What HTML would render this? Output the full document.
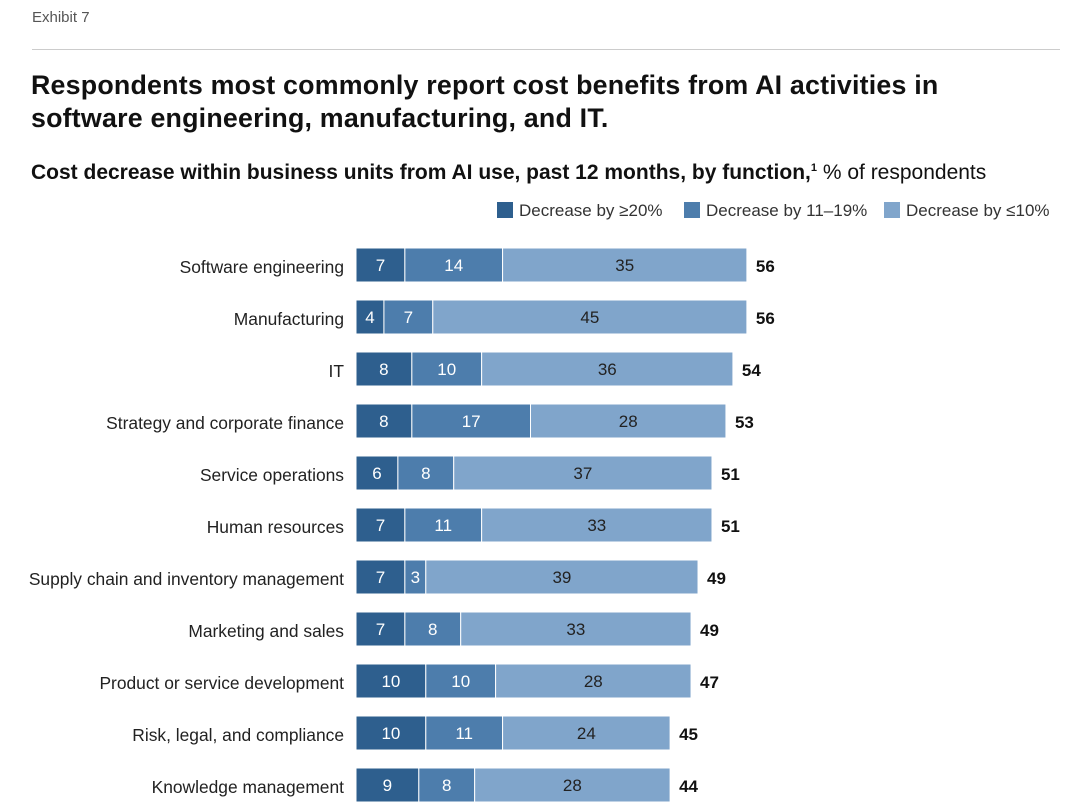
<!DOCTYPE html>
<html><head><meta charset="utf-8"><style>
body{margin:0;width:1080px;height:803px;background:#fff;font-family:"Liberation Sans",sans-serif;overflow:hidden;position:relative}
.abs{position:absolute;white-space:nowrap}
</style></head><body>
<div class="abs" style="left:32px;top:9px;font-size:15px;color:#555">Exhibit 7</div>
<div class="abs" style="left:32px;top:49px;width:1028px;height:1px;background:#ccc"></div>
<div class="abs" style="left:31px;top:69px;font-size:26.8px;font-weight:bold;line-height:33px;color:#111;letter-spacing:0.2px">Respondents most commonly report cost benefits from AI activities in<br>software engineering, manufacturing, and IT.</div>
<div class="abs" style="left:31px;top:161px;font-size:21px;color:#111"><b>Cost decrease within business units from AI use, past 12 months, by function,<sup style="font-size:11px">1</sup></b> % of respondents</div>
<svg id="chart" width="1080" height="803" style="position:absolute;left:0;top:0"></svg>
<script>
const categories=["Software engineering","Manufacturing","IT","Strategy and corporate finance","Service operations","Human resources","Supply chain and inventory management","Marketing and sales","Product or service development","Risk, legal, and compliance","Knowledge management"];
const s20=[7,4,8,8,6,7,7,7,10,10,9];
const s11=[14,7,10,17,8,11,3,8,10,11,8];
const s10=[35,45,36,28,37,33,39,33,28,24,28];
const totals=[56,56,54,53,51,51,49,49,47,45,44];
const seriesNames=["Decrease by ≥20%","Decrease by 11–19%","Decrease by ≤10%"];
const colors=["#2e5f8e","#4d7dac","#80a5cb"];
const NS="http://www.w3.org/2000/svg";
const svg=document.getElementById('chart');
const x0=356,scale=6.98,y0=265,step=52,bh=34;
const xs=v=>x0+v*scale, yc=i=>y0+i*step;
function mk(t,a){const e=document.createElementNS(NS,t);for(const k in a)e.setAttribute(k,a[k]);svg.appendChild(e);return e;}
const legX=[497,684,884];
seriesNames.forEach((n,j)=>{
 const r=mk('rect',{x:legX[j],y:202,width:16,height:16,fill:colors[j]});
 
 
 const t=mk('text',{x:legX[j]+22,y:216,'font-size':17,fill:'#333','font-family':'Liberation Sans'});
 t.textContent=n;
 
 
});
categories.forEach((c,i)=>{
 const y=yc(i);
 const lab=mk('text',{x:344,y:y+8,'text-anchor':'end','font-size':17.4,fill:'#222','font-family':'Liberation Sans'});
 lab.textContent=c;
 
 
 let acc=0;
 [s20[i],s11[i],s10[i]].forEach((v,j)=>{
  const r=mk('rect',{x:xs(acc),y:y-bh/2,width:v*scale,height:bh,fill:colors[j],stroke:'#fff','stroke-width':1});
  
  
  const t=mk('text',{x:xs(acc+v/2),y:y+6,'text-anchor':'middle','font-size':17,fill:j==2?'#222':'#fff','font-family':'Liberation Sans'});
  t.textContent=v;
  
  
  acc+=v;
 });
 const tt=mk('text',{x:xs(acc)+9,y:y+7,'font-size':17,'font-weight':'bold',fill:'#111','font-family':'Liberation Sans'});
 tt.textContent=totals[i];
 
 
});
</script>
</body></html>
